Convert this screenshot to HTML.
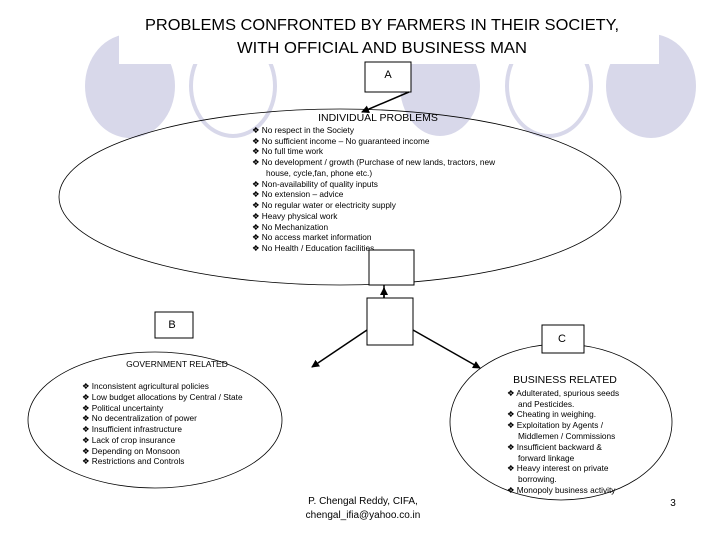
<!DOCTYPE html>
<html><head><meta charset="utf-8"><style>
body{margin:0;width:720px;height:540px;background:#fff;overflow:hidden;font-family:"Liberation Sans",sans-serif}
svg{position:absolute;left:0;top:0}
</style></head><body>
<svg width="720" height="540" viewBox="0 0 720 540" font-family="Liberation Sans, sans-serif">
<defs><marker id="ar" markerWidth="8" markerHeight="8" refX="7" refY="4" orient="auto" markerUnits="userSpaceOnUse"><path d="M0,0 L8,4 L0,8 z" fill="#000"/></marker></defs>
<g>
<ellipse cx="130" cy="86" rx="45" ry="52" fill="#d8d8ea"/>
<ellipse cx="233" cy="86" rx="42" ry="50" fill="none" stroke="#d8d8ea" stroke-width="4"/>
<ellipse cx="440" cy="86" rx="40" ry="50" fill="#d8d8ea"/>
<ellipse cx="549" cy="86" rx="42" ry="50" fill="none" stroke="#d8d8ea" stroke-width="4"/>
<ellipse cx="651" cy="86" rx="45" ry="52" fill="#d8d8ea"/>
<rect x="119" y="0" width="540" height="64" fill="#fff"/>
</g>
<text x="382" y="30" font-size="16" text-anchor="middle" textLength="474" lengthAdjust="spacingAndGlyphs">PROBLEMS CONFRONTED BY FARMERS IN THEIR SOCIETY,</text>
<text x="382" y="53" font-size="16" text-anchor="middle" textLength="290" lengthAdjust="spacingAndGlyphs">WITH OFFICIAL AND BUSINESS MAN</text>
<ellipse cx="340" cy="197" rx="281" ry="88" fill="none" stroke="#000" stroke-width="0.8"/>
<rect x="365" y="62" width="46" height="30" fill="#fff" stroke="#000"/>
<text x="388" y="78" font-size="11" text-anchor="middle">A</text>
<line x1="409" y1="92" x2="362" y2="112" stroke="#000" stroke-width="1.5" marker-end="url(#ar)"/>
<text x="378" y="121" font-size="10.5" text-anchor="middle">INDIVIDUAL PROBLEMS</text>
<g font-size="8.3">
<text x="252" y="133">❖ No respect in the Society</text>
<text x="252" y="144">❖ No sufficient income – No guaranteed income</text>
<text x="252" y="154">❖ No full time work</text>
<text x="252" y="165">❖ No development / growth (Purchase of new lands, tractors, new</text>
<text x="266" y="176">house, cycle,fan, phone etc.)</text>
<text x="252" y="187">❖ Non-availability of quality inputs</text>
<text x="252" y="197">❖ No extension – advice</text>
<text x="252" y="208">❖ No regular water or electricity supply</text>
<text x="252" y="219">❖ Heavy physical work</text>
<text x="252" y="230">❖ No Mechanization</text>
<text x="252" y="240">❖ No access market information</text>
<text x="252" y="251">❖ No Health / Education facilities</text>
</g>
<rect x="369" y="250" width="45" height="35" fill="#fff" stroke="#000"/>
<line x1="384" y1="298" x2="384" y2="288" stroke="#000" stroke-width="1.5" marker-end="url(#ar)"/>
<line x1="384" y1="285" x2="384" y2="298" stroke="#000" stroke-width="1.5"/>
<rect x="367" y="298" width="46" height="47" fill="#fff" stroke="#000"/>
<ellipse cx="155" cy="420" rx="127" ry="68" fill="none" stroke="#000" stroke-width="0.8"/>
<ellipse cx="561" cy="422" rx="111" ry="78" fill="none" stroke="#000" stroke-width="0.8"/>
<line x1="367" y1="330" x2="312" y2="367" stroke="#000" stroke-width="1.5" marker-end="url(#ar)"/>
<line x1="413" y1="330" x2="480" y2="368" stroke="#000" stroke-width="1.5" marker-end="url(#ar)"/>
<rect x="155" y="312" width="38" height="26" fill="#fff" stroke="#000"/>
<text x="172" y="328" font-size="11" text-anchor="middle">B</text>
<rect x="542" y="325" width="42" height="28" fill="#fff" stroke="#000"/>
<text x="562" y="342" font-size="11" text-anchor="middle">C</text>
<text x="177" y="367" font-size="8.5" text-anchor="middle">GOVERNMENT RELATED</text>
<g font-size="8.3">
<text x="82" y="389">❖ Inconsistent agricultural policies</text>
<text x="82" y="400">❖ Low budget allocations by Central / State</text>
<text x="82" y="411">❖ Political uncertainty</text>
<text x="82" y="421">❖ No decentralization of power</text>
<text x="82" y="432">❖ Insufficient infrastructure</text>
<text x="82" y="443">❖ Lack of crop insurance</text>
<text x="82" y="454">❖ Depending on Monsoon</text>
<text x="82" y="464">❖ Restrictions and Controls</text>
</g>
<text x="565" y="383" font-size="10.5" text-anchor="middle">BUSINESS RELATED</text>
<g font-size="8.3">
<text x="507" y="396">❖ Adulterated, spurious seeds</text>
<text x="518" y="407">and Pesticides.</text>
<text x="507" y="417">❖ Cheating in weighing.</text>
<text x="507" y="428">❖ Exploitation by Agents /</text>
<text x="518" y="439">Middlemen / Commissions</text>
<text x="507" y="450">❖ Insufficient backward &amp;</text>
<text x="518" y="461">forward linkage</text>
<text x="507" y="471">❖ Heavy interest on private</text>
<text x="518" y="482">borrowing.</text>
<text x="507" y="493">❖ Monopoly business activity</text>
</g>
<text x="363" y="504" font-size="10" text-anchor="middle">P. Chengal Reddy, CIFA,</text>
<text x="363" y="518" font-size="10" text-anchor="middle">chengal_ifia@yahoo.co.in</text>
<text x="673" y="506" font-size="10" text-anchor="middle">3</text>
</svg>
</body></html>
